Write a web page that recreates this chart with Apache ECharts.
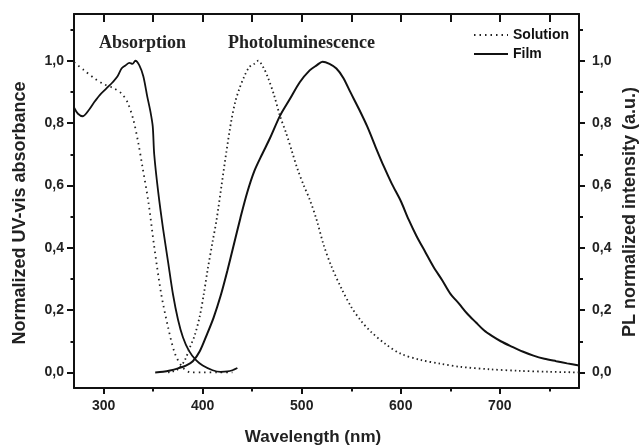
<!DOCTYPE html>
<html>
<head>
<meta charset="utf-8">
<title>Absorption and PL spectra</title>
<script src="https://cdn.jsdelivr.net/npm/echarts@6/dist/echarts.min.js"></script>
<style>
  html, body { margin: 0; padding: 0; background: #fff; }
  #chart { width: 639px; height: 446px; }
</style>
</head>
<body>
<div id="chart"></div>
<script>
// absorption, solution (dotted)
var absSolNm  = [270, 280, 290, 300, 310, 318, 324, 330, 335, 339, 345, 351, 358, 365, 372, 380, 388, 400, 415, 430];
var absSolVal = [0.995, 0.97, 0.945, 0.925, 0.912, 0.895, 0.867, 0.81, 0.735, 0.662, 0.55, 0.404, 0.253, 0.145, 0.06, 0.015, 0.0, 0.0, 0.0, 0.0];

// absorption, film (solid)
var absFilmNm  = [270, 274, 279, 285, 290, 296, 303, 309, 314, 318, 322, 326, 329, 332, 336, 340, 344, 347, 349.5, 351, 355, 360, 365, 370, 375, 380, 386, 393, 400, 410, 418, 425, 430, 435];
var absFilmVal = [0.85, 0.83, 0.822, 0.842, 0.865, 0.89, 0.912, 0.931, 0.95, 0.975, 0.985, 0.993, 0.99, 1.0, 0.985, 0.95, 0.885, 0.84, 0.79, 0.70, 0.58, 0.46, 0.355, 0.25, 0.17, 0.113, 0.07, 0.04, 0.022, 0.007, 0.002, 0.003, 0.007, 0.014];

// photoluminescence, solution (dotted)
var plSolNm  = [365, 375, 382, 387, 392, 397, 401, 405, 410, 414, 419, 424, 429, 433, 437, 442, 447, 452, 456, 461, 466, 472, 478, 484, 490, 496, 502, 508, 515, 522, 530, 540, 550, 560, 570, 585, 600, 620, 640, 660, 690, 720, 750, 780];
var plSolVal = [0.0, 0.01, 0.04, 0.08, 0.12, 0.18, 0.25, 0.33, 0.42, 0.49, 0.6, 0.71, 0.81, 0.87, 0.91, 0.95, 0.98, 0.99, 1.0, 0.98, 0.945, 0.89, 0.823, 0.77, 0.71, 0.65, 0.6, 0.555, 0.49, 0.41, 0.34, 0.27, 0.21, 0.165, 0.13, 0.09, 0.06, 0.04, 0.028, 0.018, 0.01, 0.005, 0.002, 0.0];

// photoluminescence, film (solid)
var plFilmNm  = [352, 360, 367, 375, 383, 390, 397, 404, 411, 418, 425, 431, 438, 445, 452, 460, 468, 478, 488, 498, 508, 515, 521, 528, 535, 542, 549, 557, 566, 575, 583, 591, 600, 608, 616, 625, 633, 642, 650, 659, 667, 676, 684, 692, 701, 712, 723, 734, 745, 757, 768, 780];
var plFilmVal = [0.0, 0.002, 0.006, 0.013, 0.022, 0.036, 0.068, 0.12, 0.176, 0.245, 0.328, 0.405, 0.495, 0.578, 0.645, 0.7, 0.752, 0.823, 0.877, 0.931, 0.969, 0.985, 0.997, 0.99, 0.975, 0.945, 0.9, 0.85, 0.79, 0.72, 0.66, 0.605, 0.55, 0.49, 0.437, 0.385, 0.339, 0.295, 0.253, 0.22, 0.189, 0.16, 0.135, 0.117, 0.1, 0.083, 0.067, 0.054, 0.044, 0.036, 0.029, 0.022];

// ticks
var xMajor = [300, 400, 500, 600, 700];
var xMinor = [350, 450, 550, 650, 750];
var xAllTicks = [300, 350, 400, 450, 500, 550, 600, 650, 700, 750];
var yMajor = [0, 0.2, 0.4, 0.6, 0.8, 1.0];
var yMinor = [0.1, 0.3, 0.5, 0.7, 0.9, 1.1];

function pairs(xs, ys) {
  return xs.map(function (x, i) { return [x, ys[i]]; });
}

var sans = '"Liberation Sans", Arial, sans-serif';
var serif = '"Liberation Serif", "Times New Roman", serif';
var ink = '#111';

function xAxisBase(extra) {
  var a = {
    type: 'value', min: 270, max: 780, gridIndex: 0,
    splitLine: { show: false },
    axisLine: { show: false, onZero: false },
    axisLabel: { show: false },
    axisTick: { show: false }
  };
  return Object.assign(a, extra);
}
function yAxisBase(extra) {
  var a = {
    type: 'value', min: -0.05, max: 1.15, gridIndex: 0,
    splitLine: { show: false },
    axisLine: { show: false, onZero: false },
    axisLabel: { show: false },
    axisTick: { show: false }
  };
  return Object.assign(a, extra);
}
function commaFmt(v) { return Number(v).toFixed(1).replace('.', ','); }

var chart = echarts.init(document.getElementById('chart'), null, { renderer: 'canvas' });

var option = {
  animation: false,
  backgroundColor: '#fff',
  grid: { left: 74, top: 14, right: 60, bottom: 58, outerBoundsMode: 'none' },
  legend: {
    data: ['Solution', 'Film'],
    orient: 'vertical',
    left: 473, top: 28, padding: 0,
    itemWidth: 34, itemHeight: 14, itemGap: 5,
    itemStyle: { opacity: 0 },
    textStyle: { fontFamily: sans, fontWeight: 'bold', fontSize: 14, color: ink }
  },
  xAxis: [
    xAxisBase({
      position: 'bottom',
      axisLine: { show: true, onZero: false, lineStyle: { color: ink, width: 2 } },
      axisTick: { show: true, inside: false, length: 6, customValues: xMajor, lineStyle: { color: ink, width: 2 } },
      axisLabel: { show: true, margin: 11, customValues: xMajor, fontFamily: sans, fontWeight: 'bold', fontSize: 14, color: '#222' }
    }),
    xAxisBase({
      position: 'bottom',
      axisTick: { show: true, inside: false, length: 3.5, customValues: xMinor, lineStyle: { color: ink, width: 2 } }
    }),
    xAxisBase({
      position: 'top',
      axisLine: { show: true, onZero: false, lineStyle: { color: ink, width: 2 } },
      axisTick: { show: true, inside: true, length: 8, customValues: xAllTicks, lineStyle: { color: ink, width: 2 } }
    })
  ],
  yAxis: [
    yAxisBase({
      position: 'left',
      axisLine: { show: true, onZero: false, lineStyle: { color: ink, width: 2 } },
      axisTick: { show: true, inside: false, length: 7, customValues: yMajor, lineStyle: { color: ink, width: 2 } },
      axisLabel: { show: true, margin: 10, customValues: yMajor, formatter: commaFmt, fontFamily: sans, fontWeight: 'bold', fontSize: 14, color: '#222' }
    }),
    yAxisBase({
      position: 'left',
      axisTick: { show: true, inside: false, length: 3.5, customValues: yMinor, lineStyle: { color: ink, width: 2 } }
    }),
    yAxisBase({
      position: 'right',
      axisLine: { show: true, onZero: false, lineStyle: { color: ink, width: 2 } },
      axisTick: { show: true, inside: false, length: 6, customValues: yMajor, lineStyle: { color: ink, width: 2 } },
      axisLabel: { show: true, margin: 13, customValues: yMajor, formatter: commaFmt, fontFamily: sans, fontWeight: 'bold', fontSize: 14, color: '#222' }
    }),
    yAxisBase({
      position: 'right',
      axisTick: { show: true, inside: false, length: 4, customValues: yMinor, lineStyle: { color: ink, width: 2 } }
    })
  ],
  graphic: [
    { type: 'text', left: 99, top: 34, style: { text: 'Absorption', font: 'bold 18px ' + serif, fill: '#222' } },
    { type: 'text', left: 228, top: 34, style: { text: 'Photoluminescence', font: 'bold 18px ' + serif, fill: '#222' } },
    { type: 'text', x: 313, y: 437, style: { text: 'Wavelength (nm)', font: 'bold 17px ' + sans, fill: '#222', align: 'center', verticalAlign: 'middle' } },
    { type: 'text', x: 20, y: 213, rotation: Math.PI / 2, style: { text: 'Normalized UV-vis absorbance', font: 'bold 18px ' + sans, fill: '#222', align: 'center', verticalAlign: 'middle' } },
    { type: 'text', x: 630, y: 212, rotation: Math.PI / 2, style: { text: 'PL normalized intensity (a.u.)', font: 'bold 18px ' + sans, fill: '#222', align: 'center', verticalAlign: 'middle' } }
  ],
  series: [
    {
      name: 'Solution', type: 'line', xAxisIndex: 0, yAxisIndex: 0,
      data: pairs(absSolNm, absSolVal), symbol: 'none', smooth: 0.3,
      itemStyle: { color: '#222' },
      lineStyle: { color: '#222', width: 1.8, type: [1.5, 4] }
    },
    {
      name: 'Film', type: 'line', xAxisIndex: 0, yAxisIndex: 0,
      data: pairs(absFilmNm, absFilmVal), symbol: 'none', smooth: 0.3,
      itemStyle: { color: ink },
      lineStyle: { color: ink, width: 1.8 }
    },
    {
      name: 'Solution', type: 'line', xAxisIndex: 0, yAxisIndex: 0,
      data: pairs(plSolNm, plSolVal), symbol: 'none', smooth: 0.3,
      itemStyle: { color: '#222' },
      lineStyle: { color: '#222', width: 1.8, type: [1.5, 3] }
    },
    {
      name: 'Film', type: 'line', xAxisIndex: 0, yAxisIndex: 0,
      data: pairs(plFilmNm, plFilmVal), symbol: 'none', smooth: 0.3,
      itemStyle: { color: ink },
      lineStyle: { color: ink, width: 2 }
    }
  ]
};

chart.setOption(option);
</script>
</body>
</html>
